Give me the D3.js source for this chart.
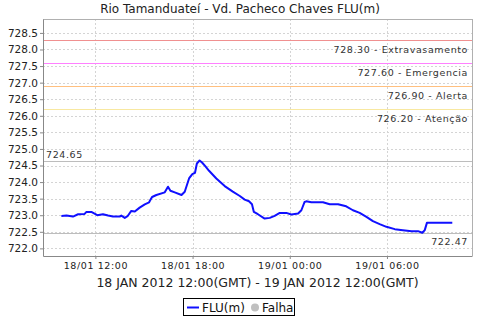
<!DOCTYPE html>
<html>
<head>
<meta charset="utf-8">
<script src="https://cdn.jsdelivr.net/npm/d3@7"></script>
<style>
  body { margin: 0; background: #fff; }
  text { font-family: "DejaVu Sans", sans-serif; }
</style>
</head>
<body>
<script>
(function (){

    //readings, 18/01 to 19/01 2012 (GMT)
    var times = ["18 09:54","18 10:13","18 10:37","18 10:56","18 11:20","18 11:27","18 11:45","18 12:07",
        "18 12:28","18 12:47","18 13:05","18 13:30","18 13:36","18 13:49","18 13:59","18 14:13","18 14:26",
        "18 14:44","18 15:03","18 15:19","18 15:23","18 15:30","18 15:46","18 16:17","18 16:29","18 16:38",
        "18 16:54","18 17:19","18 17:31","18 17:47","18 17:59","18 18:09","18 18:16","18 18:26","18 18:35",
        "18 18:47","18 19:01","18 19:28","18 19:59","18 20:29","18 20:55","18 21:13","18 21:29","18 21:40",
        "18 21:47","18 22:02","18 22:27","18 22:46","18 23:04","18 23:23","18 23:47","19 00:06","19 00:31",
        "19 00:43","19 00:55","19 01:01","19 01:20","19 02:03","19 02:28","19 02:59","19 03:29","19 03:54",
        "19 04:19","19 04:44","19 05:08","19 05:33","19 05:58","19 06:29","19 06:59","19 07:31","19 07:55",
        "19 08:11","19 08:20","19 08:28","19 08:38","19 10:02"];
    var levels = [722.98,722.99,722.96,723.03,723.04,723.10,723.10,723.00,
        723.03,722.99,722.96,722.96,722.99,722.92,722.97,723.13,723.11,
        723.23,723.33,723.39,723.45,723.55,723.61,723.69,723.86,723.74,
        723.69,723.61,723.71,724.11,724.24,724.28,724.56,724.65,724.59,
        724.48,724.34,724.11,723.88,723.71,723.58,723.47,723.42,723.33,
        723.10,723.03,722.90,722.92,722.98,723.07,723.07,723.02,723.05,
        723.15,723.40,723.42,723.39,723.39,723.33,723.33,723.27,723.15,
        723.07,722.95,722.82,722.73,722.65,722.58,722.55,722.52,722.52,
        722.47,722.55,722.77,722.77,722.77];

    //alert thresholds
    var limitValues = [728.30, 727.60, 726.90, 726.20];
    var limitNames = ["Extravasamento", "Emergencia", "Alerta", "Atenção"];
    var limitColors = ["#f09090", "#ff80ff", "#ffc080", "#f8e8a0"];

    var yTicks = [722.0,722.5,723.0,723.5,724.0,724.5,725.0,725.5,726.0,726.5,727.0,727.5,728.0,728.5];
    var xTicks = ["18 12:00", "18 18:00", "19 00:00", "19 06:00"];
    var xDomain = ["18 08:46", "19 11:15"];
    var yDomain = [721.77, 728.92];

    var width = 480, height = 320;
    var margin = {top: 19, right: 8, bottom: 64, left: 43};
    var plotW = width - margin.left - margin.right,
        plotH = height - margin.top - margin.bottom;

    var parseTime = d3.utcParse("2012-01-%d %H:%M");
    function toDate(s){ return parseTime("2012-01-" + s); }

    var svg = d3.select("body")
        .append("svg")
        .attr("width", width)
        .attr("height", height);

    var x = d3.scaleUtc()
        .domain(xDomain.map(toDate))
        .range([0, plotW]);

    var y = d3.scaleLinear()
        .domain(yDomain)
        .range([plotH, 0]);

    //title
    svg.append("text")
        .attr("x", width / 2)
        .attr("y", 13)
        .attr("text-anchor", "middle")
        .style("font-size", "12px")
        .style("fill", "#222")
        .text("Rio Tamanduateí - Vd. Pacheco Chaves FLU(m)");

    var g = svg.append("g")
        .attr("transform", "translate(" + margin.left + "," + margin.top + ")");

    //dashed grid
    g.selectAll(".hgrid")
        .data(yTicks)
        .enter()
        .append("line")
        .attr("x1", 0).attr("x2", plotW)
        .attr("y1", function(d){ return Math.round(y(d)) + 0.5; })
        .attr("y2", function(d){ return Math.round(y(d)) + 0.5; })
        .style("stroke", "#d4d4d4")
        .style("stroke-dasharray", "2,2");

    g.selectAll(".vgrid")
        .data(xTicks)
        .enter()
        .append("line")
        .attr("y1", 0).attr("y2", plotH)
        .attr("x1", function(d){ return Math.round(x(toDate(d))) + 0.5; })
        .attr("x2", function(d){ return Math.round(x(toDate(d))) + 0.5; })
        .style("stroke", "#d4d4d4")
        .style("stroke-dasharray", "2,2");

    //threshold lines with labels
    limitValues.forEach(function(v, i){
        var yy = Math.round(y(v)) + 0.5;
        g.append("line")
            .attr("x1", 0).attr("x2", plotW)
            .attr("y1", yy).attr("y2", yy)
            .style("stroke", limitColors[i]);
        g.append("text")
            .attr("x", plotW - 4)
            .attr("y", yy + 12)
            .attr("text-anchor", "end")
            .style("font-size", "9.5px")
            .style("letter-spacing", "0.6px")
            .style("fill", "#333")
            .text(v.toFixed(2) + " - " + limitNames[i]);
    });

    //max and min markers
    var maxV = d3.max(levels), minV = d3.min(levels);
    [maxV, minV].forEach(function(v){
        var yy = Math.round(y(v)) + 0.5;
        g.append("line")
            .attr("x1", 0).attr("x2", plotW)
            .attr("y1", yy).attr("y2", yy)
            .style("stroke", "#bdbdbd");
    });
    g.append("text")
        .attr("x", 3)
        .attr("y", Math.round(y(maxV)) - 3)
        .style("font-size", "9.5px")
        .style("letter-spacing", "0.6px")
        .style("fill", "#333")
        .text(maxV.toFixed(2));
    g.append("text")
        .attr("x", plotW - 4)
        .attr("y", Math.round(y(minV)) + 12)
        .attr("text-anchor", "end")
        .style("font-size", "9.5px")
        .style("letter-spacing", "0.6px")
        .style("fill", "#333")
        .text(minV.toFixed(2));

    //frame: top and right light, axes darker
    g.append("line").attr("x1", 0).attr("x2", plotW).attr("y1", 0.5).attr("y2", 0.5)
        .style("stroke", "#b0b0b0");
    g.append("line").attr("x1", plotW + 0.5).attr("x2", plotW + 0.5).attr("y1", 0).attr("y2", plotH)
        .style("stroke", "#b0b0b0");

    //data line
    var line = d3.line()
        .x(function(d, i){ return x(toDate(times[i])); })
        .y(function(d){ return y(d); });

    g.append("path")
        .datum(levels)
        .attr("d", line)
        .style("fill", "none")
        .style("stroke", "#1010ff")
        .style("stroke-width", 2)
        .style("stroke-linejoin", "round");

    //axes
    var yAxis = d3.axisLeft(y)
        .tickValues(yTicks)
        .tickSize(3)
        .tickSizeOuter(0)
        .tickFormat(d3.format(".1f"));
    var ya = g.append("g").call(yAxis);
    ya.select(".domain").style("stroke", "#888");
    ya.selectAll(".tick line").style("stroke", "#888");
    ya.selectAll("text")
        .attr("x", -5)
        .style("font-size", "10.5px")
        .style("font-family", "DejaVu Sans, sans-serif")
        .style("fill", "#222");

    var xAxis = d3.axisBottom(x)
        .tickValues(xTicks.map(toDate))
        .tickSize(3)
        .tickSizeOuter(0)
        .tickFormat(d3.utcFormat("%d/%m %H:%M"));
    var xa = g.append("g")
        .attr("transform", "translate(0," + plotH + ")")
        .call(xAxis);
    xa.select(".domain").style("stroke", "#888");
    xa.selectAll(".tick line").style("stroke", "#888");
    xa.selectAll("text")
        .attr("y", 6)
        .style("font-size", "9.5px")
        .style("letter-spacing", "0.6px")
        .style("font-family", "DejaVu Sans, sans-serif")
        .style("fill", "#222");

    //x axis caption
    svg.append("text")
        .attr("x", margin.left + plotW / 2)
        .attr("y", 287)
        .attr("text-anchor", "middle")
        .style("font-size", "12.5px")
        .style("fill", "#222")
        .text("18 JAN 2012 12:00(GMT) - 19 JAN 2012 12:00(GMT)");

    //legend
    var lg = svg.append("g").attr("transform", "translate(183,298)");
    lg.append("rect")
        .attr("x", 0.5).attr("y", 0.5)
        .attr("width", 111).attr("height", 17)
        .style("fill", "#fff")
        .style("stroke", "#000");
    lg.append("line")
        .attr("x1", 4).attr("x2", 16)
        .attr("y1", 9.5).attr("y2", 9.5)
        .style("stroke", "#1010ff")
        .style("stroke-width", 2);
    lg.append("text")
        .attr("x", 19).attr("y", 13.5)
        .style("font-size", "12px")
        .style("fill", "#111")
        .text("FLU(m)");
    lg.append("circle")
        .attr("cx", 72).attr("cy", 9.5).attr("r", 4)
        .style("fill", "#c0c0c0");
    lg.append("text")
        .attr("x", 79).attr("y", 13.5)
        .style("font-size", "12px")
        .style("fill", "#111")
        .text("Falha");

})();
</script>
</body>
</html>
